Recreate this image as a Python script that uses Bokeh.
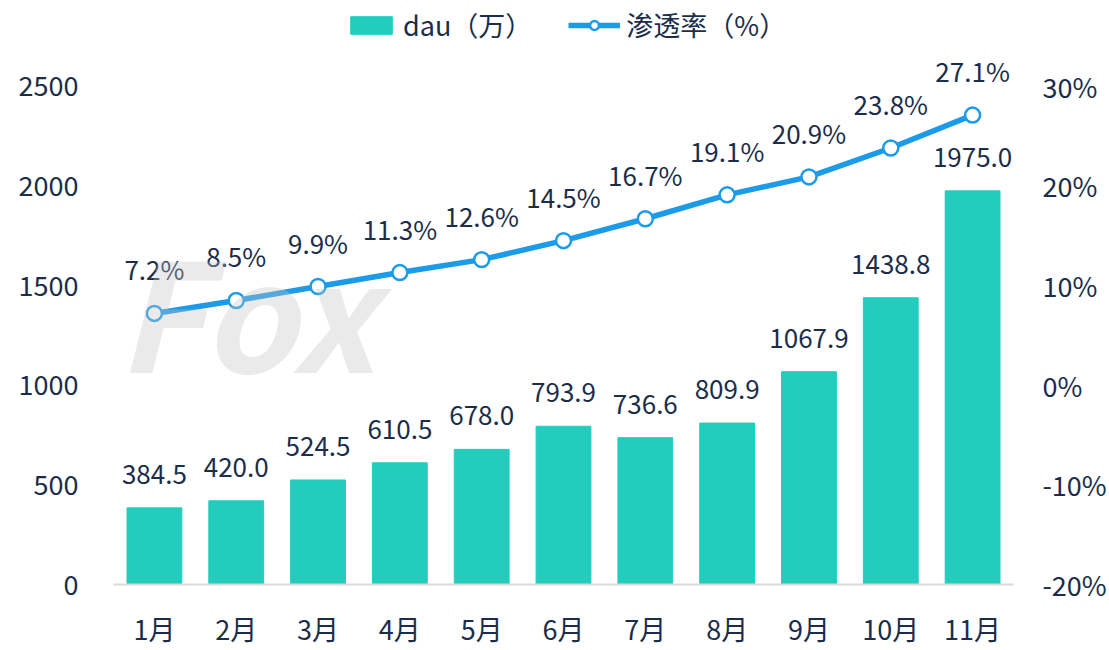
from bokeh.plotting import figure
from bokeh.models import (Range1d, LinearAxis, FixedTicker, PrintfTickFormatter,
                          ColumnDataSource, Legend, LegendItem, Label, FactorRange)
from bokeh.core.properties import value
from bokeh.embed import file_html
from bokeh.resources import INLINE

months = ["1月", "2月", "3月", "4月", "5月", "6月", "7月", "8月", "9月", "10月", "11月"]
dau = [384.5, 420.0, 524.5, 610.5, 678.0, 793.9, 736.6, 809.9, 1067.9, 1438.8, 1975.0]
rate = [7.2, 8.5, 9.9, 11.3, 12.6, 14.5, 16.7, 19.1, 20.9, 23.8, 27.1]
left_ticks = [0, 500, 1000, 1500, 2000, 2500]
right_ticks = [-20, -10, 0, 10, 20, 30]

FONT = "Noto Sans CJK SC"
NAVY = "#1a2d4a"
TEAL = "#22cdbd"
BLUE = "#1b9be8"
TICK_FS = "27px"
LBL_FS = "26px"

src = ColumnDataSource(dict(
    m=months, dau=dau, rate=rate,
    dau_lbl=[f"{v:.1f}" for v in dau],
    rate_lbl=[f"{v:.1f}%" for v in rate],
))

# frame reaches the top of the canvas so the legend (drawn above the axes) is not clipped;
# ranges extended so that 2500 / 30% sit 86px below the top
p = figure(x_range=FactorRange(*months), y_range=Range1d(0, 2930),
           width=1109, height=650, output_backend="svg", toolbar_location=None,
           min_border_left=113, min_border_right=94, min_border_top=0,
           min_border_bottom=64)
p.extra_y_ranges = {"pct": Range1d(-20, 38.6)}
p.outline_line_color = None
p.xgrid.grid_line_color = None
p.ygrid.grid_line_color = None

bars = p.vbar(x="m", top="dau", width=0.67, color=TEAL, source=src)
line = p.line(x="m", y="rate", y_range_name="pct", line_width=5.5, color=BLUE, source=src)
pts = p.scatter(x="m", y="rate", y_range_name="pct", size=15, fill_color="white",
                line_color=BLUE, line_width=2.5, source=src)

p.text(x="m", y="dau", text="dau_lbl", source=src, text_align="center",
       text_baseline="bottom", y_offset=-24, text_font_size=LBL_FS,
       text_color=NAVY, text_font=value(FONT))
p.text(x="m", y="rate", text="rate_lbl", source=src, y_range_name="pct",
       text_align="center", text_baseline="bottom", y_offset=-26,
       text_font_size=LBL_FS, text_color=NAVY, text_font=value(FONT))

# watermark (semi-transparent overlay)
wm = Label(x=3, y=277, x_units="screen", y_units="screen", text="Fox",
           text_font=FONT, text_font_size="150px", text_font_style="bold italic",
           text_color="#c4c4c4", text_alpha=0.35, text_baseline="alphabetic",
           level="overlay")
p.add_layout(wm)

# axes
xa = p.xaxis[0]
xa.axis_line_color = "#d9d9d9"
xa.axis_line_width = 2
xa.major_tick_line_color = None
xa.minor_tick_line_color = None
xa.major_label_standoff = 18
xa.major_label_text_font_size = TICK_FS
xa.major_label_text_color = NAVY
xa.major_label_text_font = FONT

ya = p.yaxis[0]
ya.ticker = FixedTicker(ticks=left_ticks)
ya.axis_line_color = None
ya.major_tick_line_color = None
ya.minor_tick_line_color = None
ya.major_label_standoff = 29
ya.major_label_text_font_size = TICK_FS
ya.major_label_text_color = NAVY
ya.major_label_text_font = FONT

ra = LinearAxis(y_range_name="pct", ticker=FixedTicker(ticks=right_ticks),
                formatter=PrintfTickFormatter(format="%d%%"))
ra.axis_line_color = None
ra.major_tick_line_color = None
ra.minor_tick_line_color = None
ra.major_label_standoff = 23
ra.major_label_text_font_size = TICK_FS
ra.major_label_text_color = NAVY
ra.major_label_text_font = FONT
p.add_layout(ra, "right")

legend = Legend(items=[LegendItem(label="dau（万）", renderers=[bars]),
                       LegendItem(label="渗透率（%）", renderers=[line, pts])],
                orientation="horizontal", location=(232, 540), padding=0, margin=0,
                spacing=36, glyph_width=52, glyph_height=22, label_standoff=6,
                label_text_font_size=TICK_FS, label_text_color=NAVY,
                label_text_font=FONT, border_line_alpha=0, background_fill_alpha=0)
p.add_layout(legend)

open("out.html", "w").write(file_html(p, INLINE))
